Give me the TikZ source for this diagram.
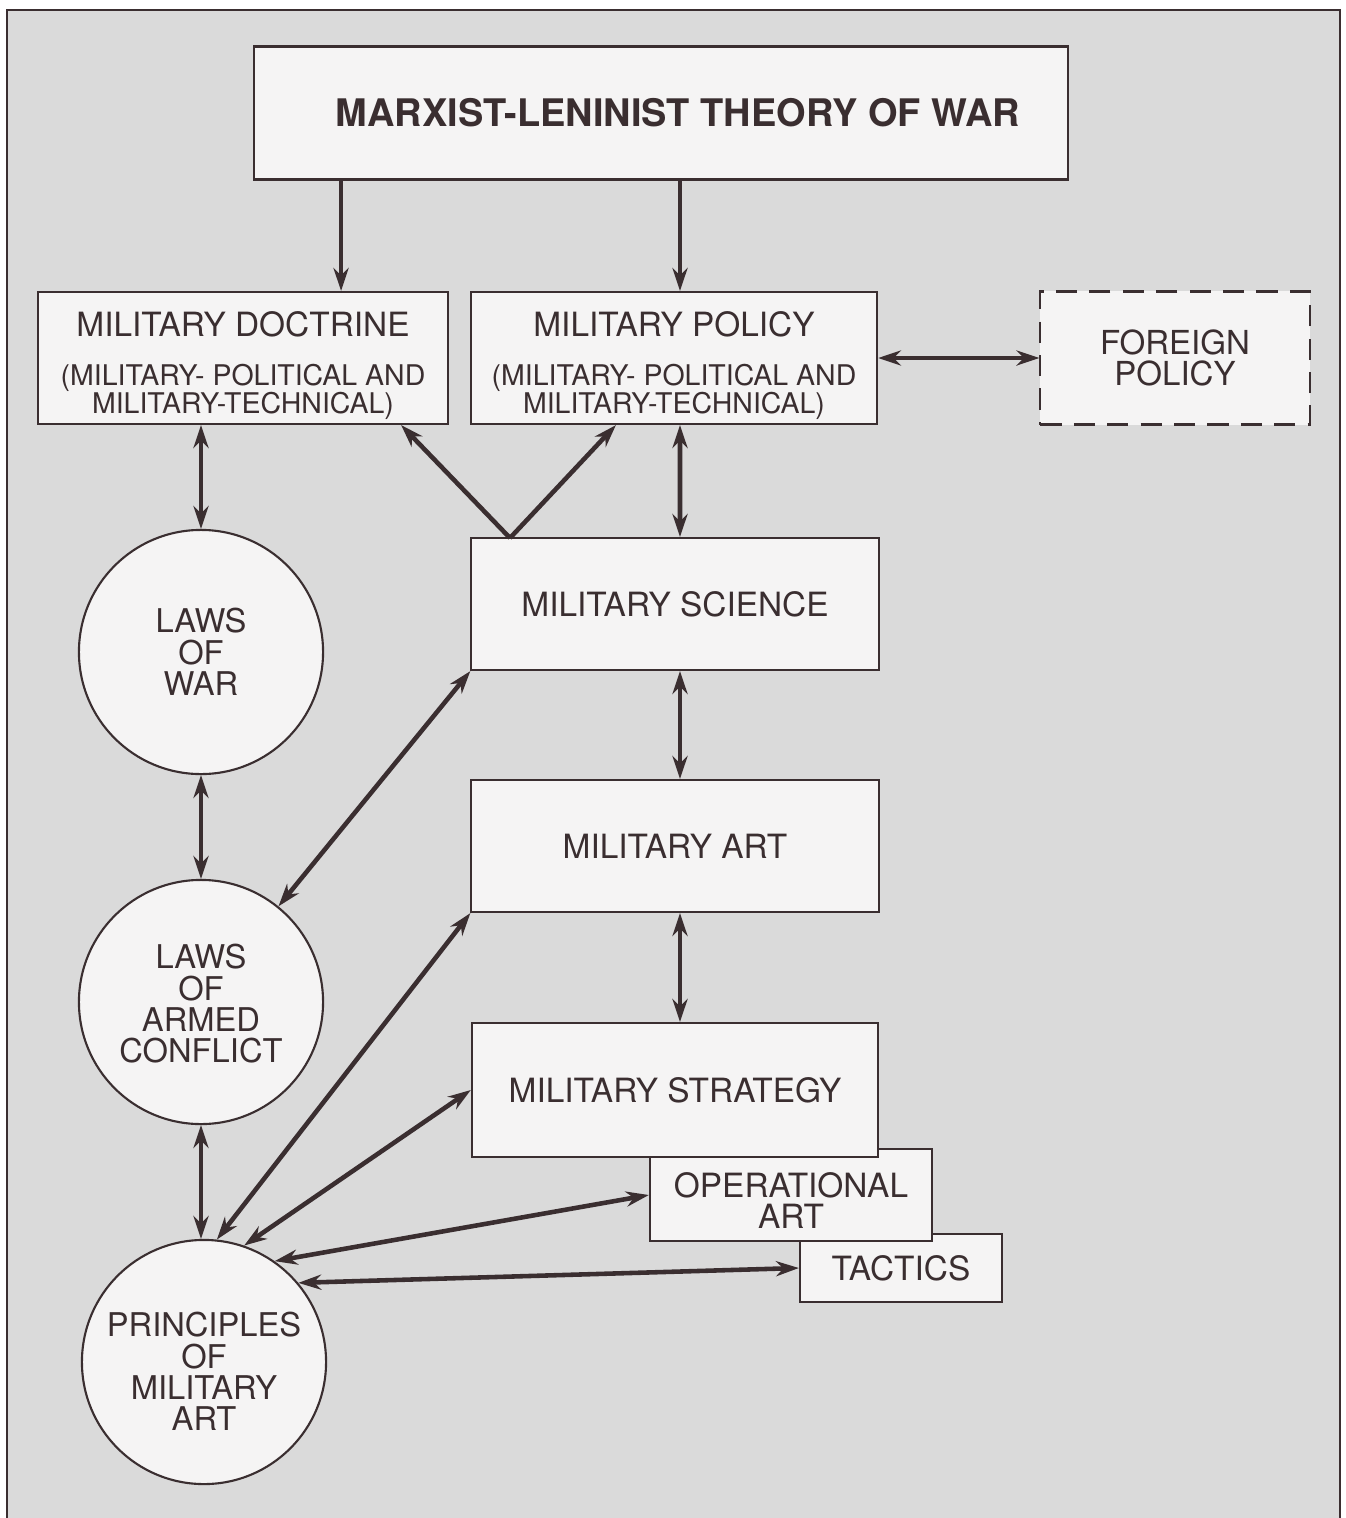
\documentclass[tikz,border=0pt]{standalone}
\usepackage{fontspec}
\setmainfont{TeX Gyre Heros}
\usepackage{xcolor}
\usepackage{tikz}
\usetikzlibrary{arrows.meta,positioning}
\definecolor{ink}{HTML}{3A2E30}
\definecolor{paper}{HTML}{DADADA}
\definecolor{boxfill}{HTML}{F5F4F4}
\newcommand{\subtxt}{\fontsize{8.1}{8}\selectfont}
\newcommand{\dropby}[1]{\rule{0pt}{#1}}

\begin{document}
\begin{tikzpicture}[
  x=0.01cm, y=-0.01cm,
  box/.style={draw=ink, line width=0.6pt, fill=boxfill, text=ink, align=center, inner sep=0pt, font=\fontsize{9.5}{11}\selectfont},
  dashbox/.style={box, dash pattern=on 6pt off 3.5pt},
  disc/.style={circle, draw=ink, line width=0.6pt, fill=boxfill, text=ink, align=center, minimum size=2.44cm, inner sep=0pt, font=\fontsize{9.3}{8.9}\selectfont},
  tip/.tip={Stealth[length=6.5pt,width=4.3pt]},
  arrow/.style={-tip, draw=ink, line width=1.3pt},
  both/.style={tip-tip, draw=ink, line width=1.3pt}
]
\useasboundingbox (0,0) rectangle (1345,1518);
\fill[paper] (7,10) rectangle (1340,1518);
\draw[ink, line width=0.8pt] (7,1518) -- (7,10) -- (1340,10) -- (1340,1518);

\node[box, minimum width=8.13cm, minimum height=1.33cm, font=\fontsize{10.8}{13}\selectfont\bfseries] (theory) at (661,113) {\hspace*{0.34cm}MARXIST-LENINIST THEORY OF WAR};
\node[box, minimum width=4.10cm, minimum height=1.32cm] (doc) at (243,358) {\dropby{11.4pt}MILITARY DOCTRINE\\[3pt]{\subtxt (MILITARY- POLITICAL AND}\\[-3pt]{\subtxt MILITARY-TECHNICAL)}};
\node[box, minimum width=4.06cm, minimum height=1.32cm] (pol) at (674,358) {\dropby{11.4pt}MILITARY POLICY\\[3pt]{\subtxt (MILITARY- POLITICAL AND}\\[-3pt]{\subtxt MILITARY-TECHNICAL)}};
\node[dashbox, minimum width=2.69cm, minimum height=1.33cm, font=\fontsize{9.4}{8.8}\selectfont] (forpol) at (1175,358) {FOREIGN\\POLICY};
\node[box, minimum width=4.07cm, minimum height=1.32cm] (sci) at (675,604) {MILITARY SCIENCE};
\node[box, minimum width=4.07cm, minimum height=1.32cm] (art) at (675,846) {MILITARY ART};
\node[box, minimum width=2.02cm, minimum height=0.68cm] (tac) at (901,1268) {TACTICS};
\node[box, minimum width=2.82cm, minimum height=0.92cm, font=\fontsize{9.5}{9}\selectfont] (opart) at (791,1195) {\dropby{10.3pt}OPERATIONAL\\ART};
\node[box, minimum width=4.06cm, minimum height=1.34cm] (strat) at (675,1090) {MILITARY STRATEGY};

\node[disc] (lw) at (201,652) {LAWS\\OF\\WAR};
\node[disc] (lac) at (201,1002) {\dropby{8pt}LAWS\\OF\\ARMED\\CONFLICT};
\node[disc] (pma) at (204,1362) {\dropby{12.4pt}PRINCIPLES\\OF\\MILITARY\\ART};

\coordinate (fork) at (510,538);

\draw[arrow] ([xshift=0.98cm]doc.north |- theory.south) -- ([xshift=0.98cm]doc.north);
\draw[arrow] ([xshift=0.06cm]pol.north |- theory.south) -- ([xshift=0.06cm]pol.north);
\draw[both] (pol.east) -- (forpol.west);
\draw[both] (lw.north |- doc.south) -- (lw.north);
\draw[both] ([xshift=0.06cm]pol.south) -- ([xshift=0.05cm]sci.north);
\draw[arrow] (fork) -- ([xshift=-0.48cm]doc.south east);
\draw[arrow] (fork) -- ([xshift=1.46cm]pol.south west);
\draw[both] (lw.south) -- (lac.north);
\draw[both] ([xshift=0.05cm]sci.south) -- ([xshift=0.05cm]art.north);
\draw[both] ([xshift=0.05cm]art.south) -- ([xshift=0.05cm]strat.north);
\draw[both] (lac.south) -- (pma.north -| lac.south);
\draw[both] (sci.south west) -- (lac.51);
\draw[both] (art.south west) -- (pma.84);
\draw[both] (strat.west) -- (pma.71);
\draw[both] (opart.west) -- (pma.55);
\draw[both] (tac.west) -- (pma.40);
\end{tikzpicture}
\end{document}
